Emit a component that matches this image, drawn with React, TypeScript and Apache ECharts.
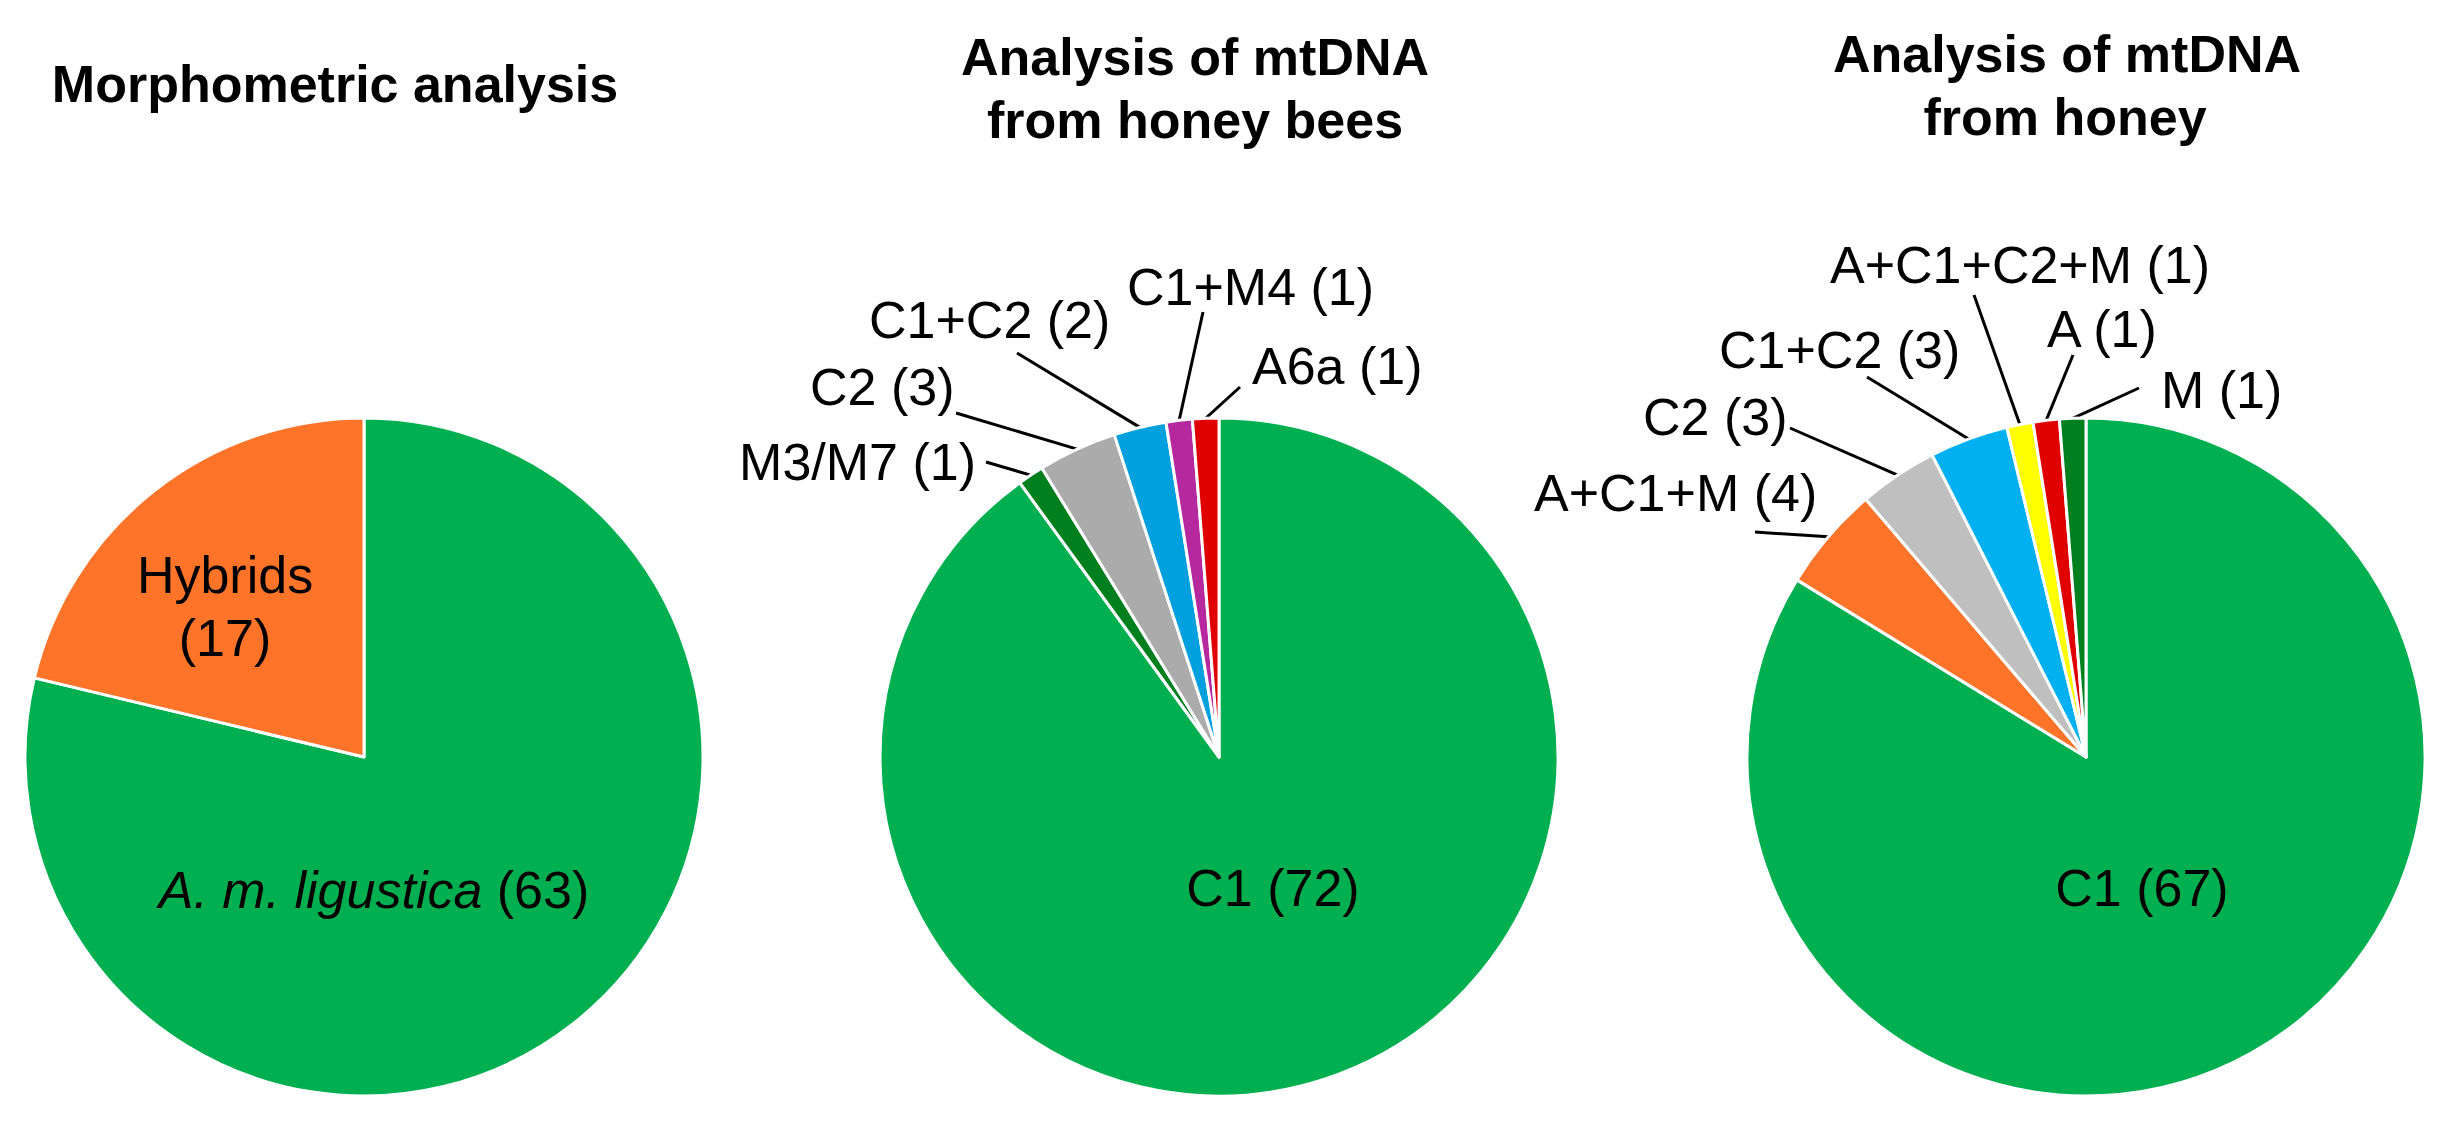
import React, { useEffect, useRef } from "react";
import * as echarts from "echarts";

// ---------- data ----------
const PIE1_NAMES = ["A. m. ligustica", "Hybrids"];
const PIE1_VALUES = [63, 17];

const PIE2_NAMES = ["C1", "M3/M7", "C2", "C1+C2", "C1+M4", "A6a"];
const PIE2_VALUES = [72, 1, 3, 2, 1, 1];

const PIE3_NAMES = ["C1", "A+C1+M", "C2", "C1+C2", "A+C1+C2+M", "A", "M"];
const PIE3_VALUES = [67, 4, 3, 3, 1, 1, 1];

const TITLE_1 = ["Morphometric analysis"];
const TITLE_2 = ["Analysis of mtDNA", "from honey bees"];
const TITLE_3 = ["Analysis of mtDNA", "from honey"];

const ITALIC_NAMES = ["A. m. ligustica"];

// ---------- styles / layout ----------
const FONT = '"Liberation Sans", Arial, Helvetica, sans-serif';
const LABEL_SIZE = 52;
const TITLE_SIZE = 52;

const PIE1_COLORS = ["#00B050", "#FF7429"];
const PIE2_COLORS = ["#00B050", "#007F1F", "#ABABAB", "#00A0DE", "#B5289E", "#E00000"];
const PIE3_COLORS = ["#00B050", "#FF7429", "#BFBFBF", "#00B0F0", "#FFFF00", "#E00000", "#007F1F"];

const CENTERS = [
  [364, 757],
  [1219, 757],
  [2086, 757],
];
const RADIUS = 339;

type LL = { x: number; y: number; align: string; inside?: boolean; end?: number[]; lines?: boolean };

const PIE1_LAYOUT: LL[] = [
  { x: 374, y: 890, align: "center", inside: true },
  { x: 225, y: 606, align: "center", inside: true, lines: true },
];
const PIE2_LAYOUT: LL[] = [
  { x: 1273, y: 888, align: "center", inside: true },
  { x: 976, y: 462, align: "right", end: [986, 462] },
  { x: 810, y: 387, align: "left", end: [956, 413] },
  { x: 869, y: 320, align: "left", end: [1017, 353] },
  { x: 1127, y: 287, align: "left", end: [1203, 312] },
  { x: 1252, y: 366, align: "left", end: [1240, 387] },
];
const PIE3_LAYOUT: LL[] = [
  { x: 2142, y: 888, align: "center", inside: true },
  { x: 1534, y: 493, align: "left", end: [1755, 532] },
  { x: 1643, y: 417, align: "left", end: [1790, 428] },
  { x: 1719, y: 350, align: "left", end: [1867, 377] },
  { x: 1830, y: 265, align: "left", end: [1974, 295] },
  { x: 2047, y: 329, align: "left", end: [2073, 355] },
  { x: 2161, y: 390, align: "left", end: [2139, 388] },
];

const TITLE_POS = [
  [[335, 84]],
  [
    [1195, 57],
    [1195, 120],
  ],
  [
    [2067, 54],
    [2065, 117],
  ],
];

function buildSeries(
  idx: number,
  names: string[],
  values: number[],
  colors: string[],
  layout: LL[]
) {
  return {
    type: "pie",
    center: CENTERS[idx],
    radius: RADIUS,
    startAngle: 90,
    clockwise: true,
    avoidLabelOverlap: false,
    silent: true,
    itemStyle: { borderColor: "#ffffff", borderWidth: 3 },
    label: {
      show: true,
      position: "outside",
      color: "#000000",
      fontFamily: FONT,
      fontSize: LABEL_SIZE,
      lineHeight: 63,
      formatter: (p: any) => {
        const L = layout[p.dataIndex];
        if (ITALIC_NAMES.indexOf(p.name) >= 0) return `{i|${p.name}} (${p.value})`;
        if (L && L.lines) return `${p.name}\n(${p.value})`;
        return `${p.name} (${p.value})`;
      },
      rich: {
        i: {
          fontStyle: "italic",
          fontFamily: FONT,
          fontSize: LABEL_SIZE,
          color: "#000000",
        },
      },
    },
    labelLine: {
      show: true,
      length: 10,
      length2: 0,
      lineStyle: { color: "#000000", width: 3 },
    },
    labelLayout: (p: any) => {
      const L = layout[p.dataIndex];
      const out: any = { x: L.x, y: L.y, align: L.align, verticalAlign: "middle" };
      if (L.end && p.labelLinePoints && p.labelLinePoints.length) {
        out.labelLinePoints = [p.labelLinePoints[0], L.end];
      }
      return out;
    },
    data: names.map((n, i) => {
      const L = layout[i];
      const item: any = { name: n, value: values[i], itemStyle: { color: colors[i] } };
      if (L && L.inside) {
        item.label = { position: "inside" };
        item.labelLine = { show: false };
      }
      return item;
    }),
  };
}

export default function App() {
  const ref = useRef<HTMLDivElement>(null);
  useEffect(() => {
    if (!ref.current) return;
    const chart = echarts.init(ref.current, null, { renderer: "svg" });
    const titles = [TITLE_1, TITLE_2, TITLE_3];
    const graphic: any[] = [];
    titles.forEach((lines, ti) => {
      lines.forEach((t, li) => {
        const pos = TITLE_POS[ti][li];
        graphic.push({
          type: "text",
          x: pos[0],
          y: pos[1],
          silent: true,
          style: {
            text: t,
            fill: "#000000",
            fontFamily: FONT,
            fontSize: TITLE_SIZE,
            fontWeight: "bold",
            align: "center",
            verticalAlign: "middle",
            textAlign: "center",
            textVerticalAlign: "middle",
          },
        });
      });
    });
    chart.setOption({
      animation: false,
      backgroundColor: "#ffffff",
      graphic,
      series: [
        buildSeries(0, PIE1_NAMES, PIE1_VALUES, PIE1_COLORS, PIE1_LAYOUT),
        buildSeries(1, PIE2_NAMES, PIE2_VALUES, PIE2_COLORS, PIE2_LAYOUT),
        buildSeries(2, PIE3_NAMES, PIE3_VALUES, PIE3_COLORS, PIE3_LAYOUT),
      ],
    });
    return () => chart.dispose();
  }, []);
  return (
    <div
      ref={ref}
      style={{ position: "absolute", left: 0, top: 0, width: 2450, height: 1124, background: "#fff" }}
    />
  );
}
